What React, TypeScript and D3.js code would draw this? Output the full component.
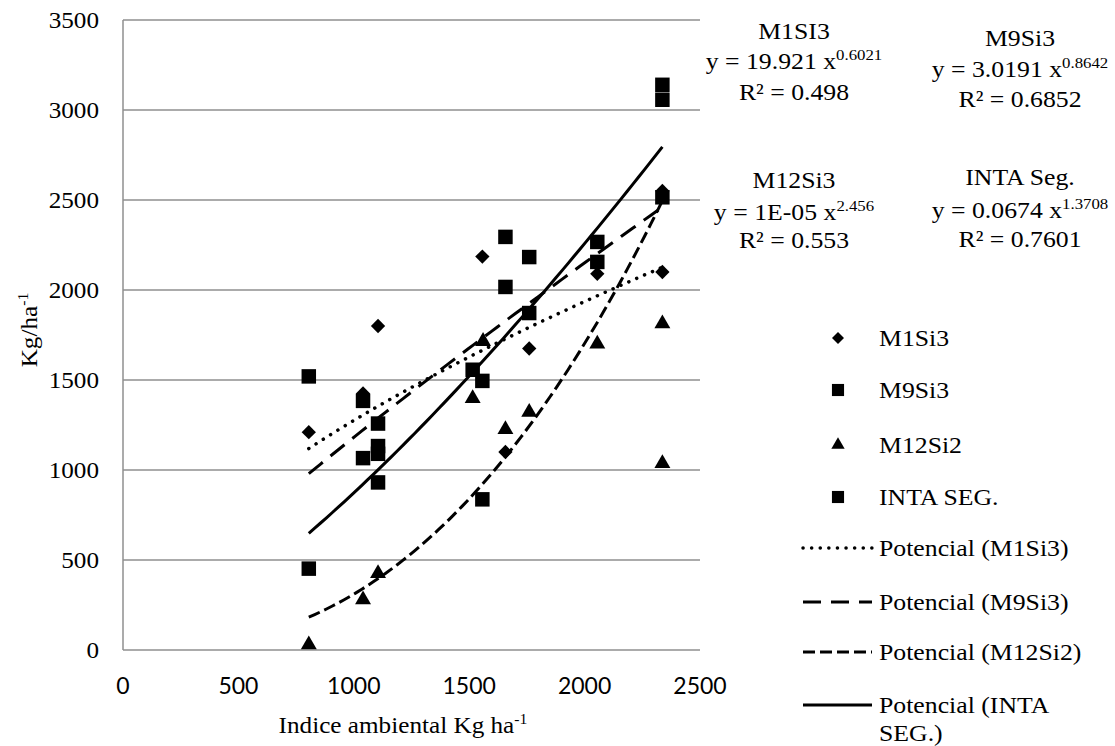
import React from "react";
import * as d3 from "d3";

// ambiente index (x) and yield (y) for every series
const m1Si3X = [805, 1040, 1105, 1557, 1657, 1760, 2055, 2337, 2337];
const m1Si3Y = [1210, 1425, 1800, 2186, 1100, 1675, 2090, 2100, 2550];

const m9Si3X = [805, 1040, 1105, 1105, 1515, 1657, 1760, 2055, 2337];
const m9Si3Y = [1520, 1384, 1258, 1133, 1557, 2295, 2183, 2267, 2515];

const m12Si2X = [805, 1040, 1105, 1515, 1560, 1657, 1760, 2055, 2337, 2337];
const m12Si2Y = [30, 280, 425, 1398, 1715, 1225, 1321, 1700, 1813, 1036];

const intaX = [805, 1040, 1105, 1105, 1557, 1557, 1657, 1760, 2055, 2337, 2337];
const intaY = [452, 1066, 1090, 931, 1495, 837, 2017, 1872, 2156, 3140, 3057];

const seriesNames = ["M1Si3", "M9Si3", "M12Si2", "INTA SEG."];
const seriesSymbols = [d3.symbolDiamond2, d3.symbolSquare, d3.symbolTriangle, d3.symbolSquare];
const seriesSizes = [130, 210, 110, 210];

// power trend y = a * x^b (M12Si2 label says 1E-05, the drawn curve fits ~1.33E-05)
const trendA = [19.921, 3.0191, 1.33e-5, 0.0674];
const trendB = [0.6021, 0.8642, 2.456, 1.3708];
const trendDash = ["0.1 8.5", "18 10", "12 5", "none"];
const trendWidth = [3.5, 3, 3, 3];
const trendLabels = ["Potencial (M1Si3)", "Potencial (M9Si3)", "Potencial (M12Si2)", "Potencial (INTA|SEG.)"];

const eqNames = ["M1SI3", "M9Si3", "M12Si3", "INTA Seg."];
const eqCoef = ["19.921", "3.0191", "1E-05", "0.0674"];
const eqExp = ["0.6021", "0.8642", "2.456", "1.3708"];
const eqR2 = ["0.498", "0.6852", "0.553", "0.7601"];

const xTicks = [0, 500, 1000, 1500, 2000, 2500];
const yTicks = [0, 500, 1000, 1500, 2000, 2500, 3000, 3500];

const serif = "'Liberation Serif', 'Times New Roman', serif";

// the source renders its serif text a bit wide, so stretch it horizontally
function SText({ x, y, anchor = "start", size = 23, children }: any) {
  return (
    <text
      transform={`translate(${x},${y}) scale(1.12,1)`}
      textAnchor={anchor}
      fontSize={size}
      fontFamily={serif}
      fill="#000"
    >
      {children}
    </text>
  );
}

export default function App() {
  const width = 1115;
  const height = 746;
  const x = d3.scaleLinear([0, 2500], [123, 700]);
  const y = d3.scaleLinear([0, 3500], [650, 20]);

  const xs = [m1Si3X, m9Si3X, m12Si2X, intaX];
  const ys = [m1Si3Y, m9Si3Y, m12Si2Y, intaY];

  const line = d3
    .line<number[]>()
    .x((d) => x(d[0]))
    .y((d) => y(d[1]));

  const trends = trendA.map((a, i) => {
    const [lo, hi] = d3.extent(xs[i]) as [number, number];
    const pts = d3.range(0, 61).map((k) => {
      const xv = lo + ((hi - lo) * k) / 60;
      return [xv, a * Math.pow(xv, trendB[i])];
    });
    return line(pts);
  });

  const eqCols = [794, 1020, 794, 1020];
  const eqRows = [
    [39, 69, 100],
    [46, 77, 107],
    [188, 220, 248],
    [185, 218, 247],
  ];

  const legX = 838;
  const legTextX = 879;
  const legRows = [338, 390, 445, 497, 548, 602, 652, 705];

  return (
    <svg
      width={width}
      height={height}
      style={{ position: "absolute", left: 0, top: 0, background: "#fff" }}
    >
      {/* grid */}
      <g stroke="#8f8f8f" strokeWidth={1.5}>
        {yTicks.map((t) => (
          <line key={t} x1={x(0)} x2={x(2500)} y1={y(t)} y2={y(t)} />
        ))}
        <line x1={x(0)} x2={x(0)} y1={y(0)} y2={y(3500)} />
      </g>

      {/* y ticks */}
      {yTicks.map((t) => (
        <SText key={t} x={99} y={y(t) + 8} anchor="end" size={22.5}>
          {t}
        </SText>
      ))}
      {/* x ticks */}
      {xTicks.map((t) => (
        <text
          key={t}
          x={x(t)}
          y={694}
          textAnchor="middle"
          fontSize={23}
          fontFamily="Lato, 'Open Sans', sans-serif"
        >
          {t}
        </text>
      ))}

      {/* axis titles */}
      <SText x={403} y={733} anchor="middle" size={22.5}>
        Indice ambiental Kg ha<tspan fontSize={14} dy={-9}>-1</tspan>
      </SText>
      <g transform="translate(37,330) rotate(-90)">
        <SText x={0} y={0} anchor="middle" size={22.5}>
          Kg/ha<tspan fontSize={14} dy={-9}>-1</tspan>
        </SText>
      </g>

      {/* markers */}
      {xs.map((sx, i) =>
        sx.map((xv, j) => (
          <path
            key={`${i}-${j}`}
            transform={`translate(${x(xv)},${y(ys[i][j])})`}
            d={d3.symbol(seriesSymbols[i], seriesSizes[i])() as string}
            fill="#000"
          />
        ))
      )}

      {/* trend lines */}
      {trends.map((d, i) => (
        <path
          key={i}
          d={d as string}
          fill="none"
          stroke="#000"
          strokeWidth={trendWidth[i]}
          strokeDasharray={trendDash[i]}
          strokeLinecap={i === 0 ? "round" : "butt"}
        />
      ))}

      {/* equations */}
      {eqNames.map((n, i) => (
        <g key={n}>
          <SText x={eqCols[i]} y={eqRows[i][0]} anchor="middle">
            {n}
          </SText>
          <SText x={eqCols[i]} y={eqRows[i][1]} anchor="middle">
            y = {eqCoef[i]} x<tspan fontSize={15} dy={-9}>{eqExp[i]}</tspan>
          </SText>
          <SText x={eqCols[i]} y={eqRows[i][2]} anchor="middle">
            R² = {eqR2[i]}
          </SText>
        </g>
      ))}

      {/* legend */}
      {seriesNames.map((n, i) => (
        <g key={n}>
          <path
            transform={`translate(${legX},${legRows[i]})`}
            d={d3.symbol(seriesSymbols[i], seriesSizes[i] * 0.7)() as string}
            fill="#000"
          />
          <SText x={legTextX} y={legRows[i] + 8}>
            {n}
          </SText>
        </g>
      ))}
      {trendLabels.map((n, i) => {
        const ly = legRows[4 + i];
        const parts = n.split("|");
        return (
          <g key={n}>
            <line
              x1={803}
              x2={872}
              y1={ly}
              y2={ly}
              stroke="#000"
              strokeWidth={trendWidth[i]}
              strokeDasharray={trendDash[i]}
              strokeLinecap={i === 0 ? "round" : "butt"}
            />
            {parts.map((p, k) => (
              <SText key={k} x={legTextX} y={ly + 8 + k * 28}>
                {p}
              </SText>
            ))}
          </g>
        );
      })}
    </svg>
  );
}
